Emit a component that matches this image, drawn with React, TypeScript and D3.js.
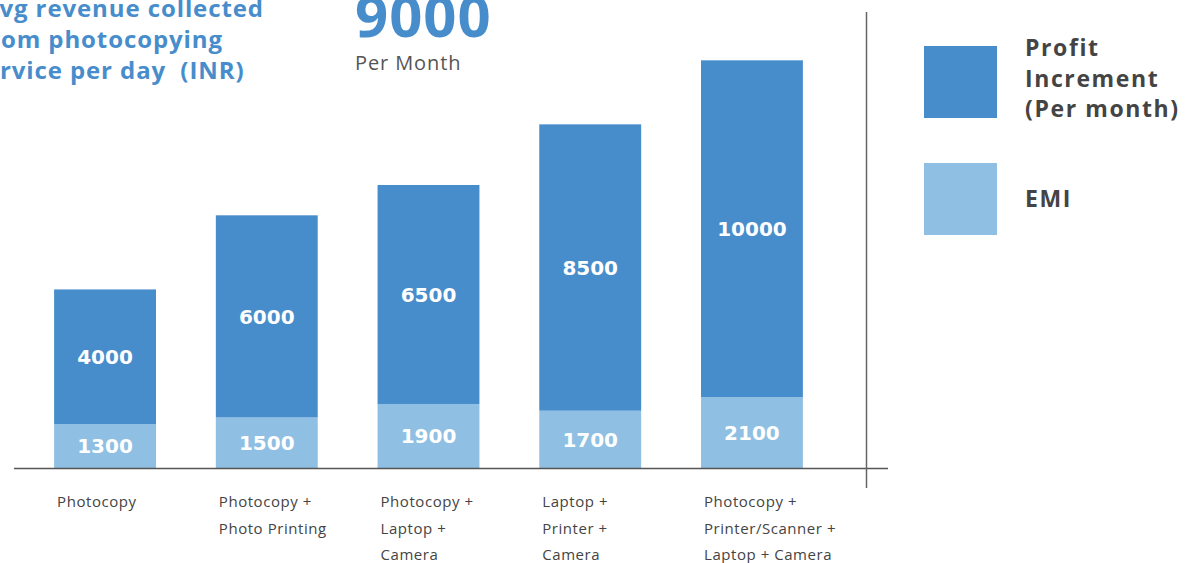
import React from "react";
import * as d3 from "d3";

const categories = [
  ["Photocopy"],
  ["Photocopy +", "Photo Printing"],
  ["Photocopy +", "Laptop +", "Camera"],
  ["Laptop +", "Printer +", "Camera"],
  ["Photocopy +", "Printer/Scanner +", "Laptop + Camera"],
];
const emi = [1300, 1500, 1900, 1700, 2100];
const profit = [4000, 6000, 6500, 8500, 10000];
const legendProfit = ["Profit", "Increment", "(Per month)"];
const legendEmi = "EMI";
const titleLines = ["Avg revenue collected", "from photocopying", "service per day  (INR)"];
const headline = "9000";
const headlineSub = "Per Month";

const W = 1186;
const H = 563;
const FONT = "'Open Sans', 'DejaVu Sans', sans-serif";
const NUMFONT = "'DejaVu Sans', sans-serif";
const DARK = "#488dcb";
const LIGHT = "#8fbfe2";

export default function App() {
  const keys = categories.map((_, i) => String(i));
  const x = d3.scaleBand<string>().domain(keys).range([25, 832]).paddingInner(0.37).paddingOuter(0.18);
  const y = d3.scaleLinear().domain([0, 13000]).range([468, 30]);
  const bw = x.bandwidth();
  const titleX = [-18, -21, -28];

  return (
    <svg width={W} height={H} style={{ position: "absolute", left: 0, top: 0, display: "block" }} fontFamily={FONT}>
      {/* title */}
      <text fill={DARK} fontWeight={700} fontSize={24} letterSpacing={0.9} style={{ whiteSpace: "pre" }}>
        {titleLines.map((t, i) => (
          <tspan key={i} x={titleX[i]} y={17 + i * 31}>{t}</tspan>
        ))}
      </text>
      <text x={355} y={37} fill={DARK} fontWeight={700} fontSize={58} letterSpacing={1}>{headline}</text>
      <text x={355} y={70} fill="#555" fontSize={20} letterSpacing={0.9}>{headlineSub}</text>

      {/* bars */}
      {categories.map((c, i) => {
        const x0 = x(String(i))!;
        const e0 = y(0), e1 = y(emi[i]);
        const p1 = y(emi[i] + profit[i]);
        return (
          <g key={i}>
            <rect x={x0} y={e1} width={bw} height={e0 - e1} fill={LIGHT} />
            <rect x={x0} y={p1} width={bw} height={e1 - p1} fill={DARK} />
            <text x={x0 + bw / 2} y={(e0 + e1) / 2} dy="0.36em" textAnchor="middle" fill="#fff" fontWeight={700} fontSize={20} fontFamily={NUMFONT}>{emi[i]}</text>
            <text x={x0 + bw / 2} y={(e1 + p1) / 2} dy="0.36em" textAnchor="middle" fill="#fff" fontWeight={700} fontSize={20} fontFamily={NUMFONT}>{profit[i]}</text>
            <text fill="#444" fontSize={15} letterSpacing={0.55}>
              {c.map((l, j) => (
                <tspan key={j} x={x0 + 3} y={507 + j * 26.5}>{l}</tspan>
              ))}
            </text>
          </g>
        );
      })}

      {/* axes */}
      <line x1={14} x2={888} y1={468.5} y2={468.5} stroke="#555" strokeWidth={1.5} />
      <line x1={866.5} x2={866.5} y1={12} y2={488} stroke="#666" strokeWidth={1.5} />

      {/* legend */}
      <rect x={924} y={46} width={73} height={72} fill={DARK} />
      <rect x={924} y={163} width={73} height={72} fill={LIGHT} />
      <text fill="#444" fontWeight={700} fontSize={23} letterSpacing={1.6}>
        {legendProfit.map((l, j) => (
          <tspan key={j} x={1025} y={56 + j * 30.5}>{l}</tspan>
        ))}
      </text>
      <text x={1025} y={207} fill="#444" fontWeight={700} fontSize={23} letterSpacing={1.6}>{legendEmi}</text>
    </svg>
  );
}
